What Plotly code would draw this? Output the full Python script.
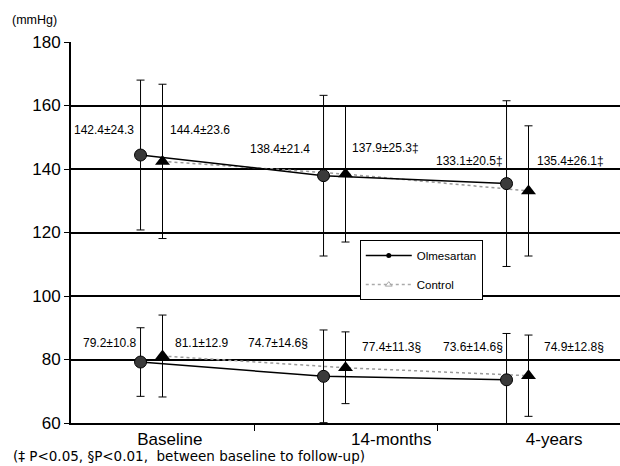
import plotly.graph_objects as go

# Visits and blood pressure summaries (mean, SD in mmHg)
categories = ["Baseline", "14-months", "4-years"]

sbp_olm_mean = [144.4, 137.9, 135.4]
sbp_olm_sd = [23.6, 25.3, 26.1]
sbp_ctl_mean = [142.4, 138.4, 133.1]
sbp_ctl_sd = [24.3, 21.4, 20.5]

dbp_olm_mean = [79.2, 74.7, 73.6]
dbp_olm_sd = [10.8, 14.6, 14.6]
dbp_ctl_mean = [81.1, 77.4, 74.9]
dbp_ctl_sd = [12.9, 11.3, 12.8]

# significance marks appended to each value label
sbp_olm_sig = ["", "‡", "‡"]
sbp_ctl_sig = ["", "", "‡"]
dbp_olm_sig = ["", "§", "§"]
dbp_ctl_sig = ["", "§", "§"]

FONT = "Liberation Sans, Arial, sans-serif"

# x position of each group within a visit slot
olm_x = [i + 0.38 for i in range(len(categories))]
ctl_x = [i + 0.50 for i in range(len(categories))]


def err(sd):
    return dict(type="data", array=sd, visible=True, color="black",
                thickness=1, width=4)


olm_marker = dict(symbol="circle", size=12, color="#3a3a3a",
                  line=dict(color="black", width=1))
ctl_marker = dict(symbol="triangle-up", size=13, color="black")
olm_line = dict(color="black", width=1.5)
ctl_line = dict(color="#9a9a9a", width=1.5, dash="dot")

fig = go.Figure()
for mean, sd in [(sbp_ctl_mean, sbp_ctl_sd), (dbp_ctl_mean, dbp_ctl_sd)]:
    fig.add_trace(go.Scatter(x=ctl_x, y=mean, mode="lines+markers",
                             line=ctl_line, marker=ctl_marker,
                             error_y=err(sd), showlegend=False))
for mean, sd in [(sbp_olm_mean, sbp_olm_sd), (dbp_olm_mean, dbp_olm_sd)]:
    fig.add_trace(go.Scatter(x=olm_x, y=mean, mode="lines+markers",
                             line=olm_line, marker=olm_marker,
                             error_y=err(sd), showlegend=False))

# legend entries
fig.add_trace(go.Scatter(x=[None], y=[None], mode="lines+markers",
                         name="Olmesartan", legendgroup="a",
                         line=dict(color="black", width=1.5),
                         marker=dict(symbol="circle", size=5, color="black")))
fig.add_trace(go.Scatter(x=[None], y=[None], mode="lines+markers",
                         name="Control", legendgroup="b",
                         line=dict(color="#aaaaaa", width=1.5, dash="dot"),
                         marker=dict(symbol="triangle-up-open", size=6,
                                     color="#aaaaaa")))


def label(m, s, sig):
    return f"{m:.1f}±{s:.1f}{sig}"


# value labels placed beside each error bar
sbp_left = [label(m, s, g) for m, s, g in zip(sbp_ctl_mean, sbp_ctl_sd, sbp_ctl_sig)]
sbp_right = [label(m, s, g) for m, s, g in zip(sbp_olm_mean, sbp_olm_sd, sbp_olm_sig)]
dbp_left = [label(m, s, g) for m, s, g in zip(dbp_olm_mean, dbp_olm_sd, dbp_olm_sig)]
dbp_right = [label(m, s, g) for m, s, g in zip(dbp_ctl_mean, dbp_ctl_sd, dbp_ctl_sig)]

sbp_left_pos = [(0.18, 152.3), (1.14, 146.3), (2.18, 142.5)]
sbp_right_pos = [(0.705, 152.3), (1.72, 146.6), (2.727, 142.5)]
dbp_left_pos = [(0.213, 85.2), (1.131, 85.2), (2.197, 84.0)]
dbp_right_pos = [(0.716, 85.2), (1.754, 84.0), (2.749, 84.0)]

for texts, pos in [(sbp_left, sbp_left_pos), (sbp_right, sbp_right_pos),
                   (dbp_left, dbp_left_pos), (dbp_right, dbp_right_pos)]:
    for t, (x, y) in zip(texts, pos):
        fig.add_annotation(x=x, y=y, xref="x", yref="y", text=t,
                           showarrow=False,
                           font=dict(family=FONT, size=12, color="black"))

# pixel helpers for text outside the plot area
plot_w, plot_h = 620 - 71, 466 - 42 - 43

fig.add_annotation(x=(10 - 71) / plot_w, y=1 + (42 - 20) / plot_h,
                   xref="paper", yref="paper", text="(mmHg)",
                   showarrow=False, xanchor="left", yanchor="middle",
                   font=dict(family=FONT, size=12.5, color="black"))
fig.add_annotation(x=(11 - 71) / plot_w, y=-(456 - 423) / plot_h,
                   xref="paper", yref="paper",
                   text="(‡ P<0.05, §P<0.01,  between baseline to follow-up)",
                   showarrow=False, xanchor="left", yanchor="middle",
                   font=dict(family="DejaVu Sans, sans-serif", size=13.5,
                             color="black"))

fig.update_layout(
    width=620, height=466,
    margin=dict(l=71, r=0, t=42, b=43),
    paper_bgcolor="white", plot_bgcolor="white",
    font=dict(family=FONT, color="black"),
    showlegend=True,
    legend=dict(x=0.526, y=0.48, xanchor="left", yanchor="top",
                bgcolor="white", bordercolor="black", borderwidth=1,
                font=dict(family=FONT, size=11.5, color="black"),
                traceorder="grouped", tracegroupgap=10, itemwidth=46),
    xaxis=dict(range=[0, 3], tickvals=[0.54, 1.75, 2.64], ticktext=categories,
               ticks="", showgrid=False, zeroline=False,
               showline=True, linecolor="black", linewidth=2,
               tickfont=dict(family=FONT, size=17, color="black"),
               minor=dict(tickvals=[1, 2], ticks="outside", ticklen=6,
                          tickcolor="black", tickwidth=1, showgrid=False)),
    yaxis=dict(range=[60, 180], tickvals=[60, 80, 100, 120, 140, 160, 180],
               ticks="outside", ticklen=5, tickcolor="black",
               showgrid=True, gridcolor="black", gridwidth=2,
               zeroline=False, showline=True, linecolor="black", linewidth=2,
               tickfont=dict(family=FONT, size=17, color="black")),
)

fig.write_html("out.html")
